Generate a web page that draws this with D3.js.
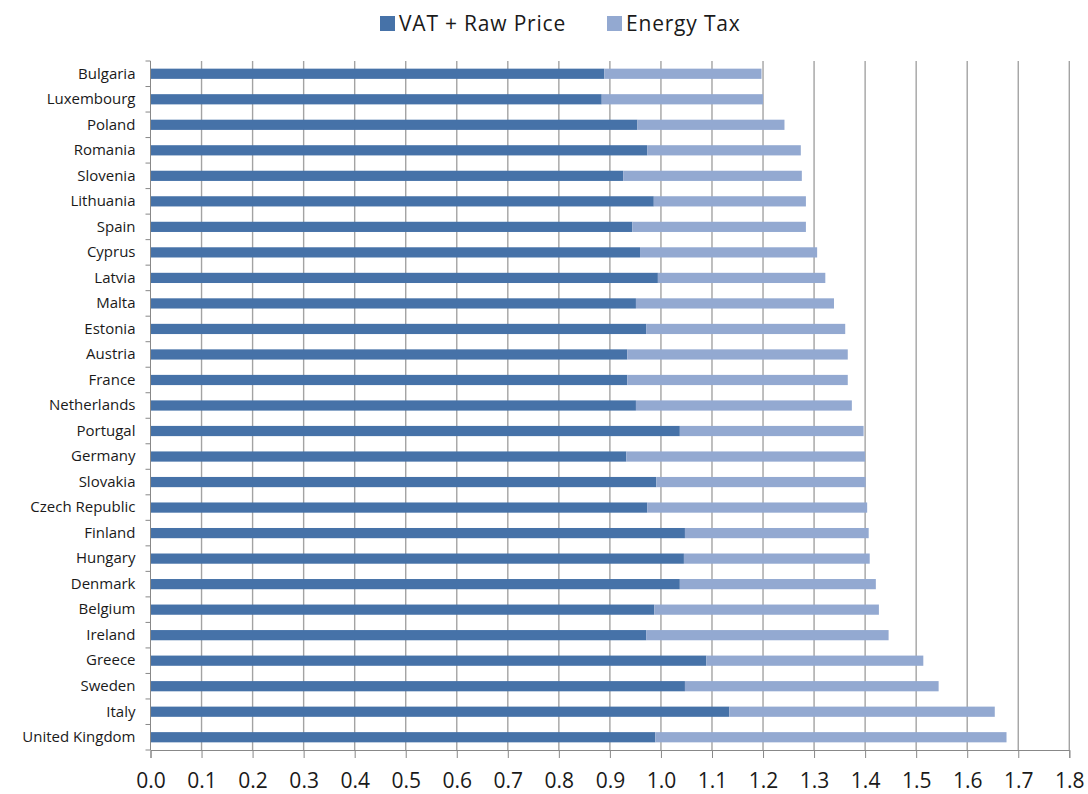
<!DOCTYPE html>
<html>
<head>
<meta charset="utf-8">
<script src="https://d3js.org/d3.v7.min.js"></script>
<style>
  body { margin: 0; background: #fff; }
  svg text { font-family: "Open Sans", Lato, sans-serif; fill: #1a1a1a; }
</style>
</head>
<body>
<div id="chart"></div>
<script>
// categories, top to bottom
var countries = ["Bulgaria", "Luxembourg", "Poland", "Romania", "Slovenia", "Lithuania",
  "Spain", "Cyprus", "Latvia", "Malta", "Estonia", "Austria", "France", "Netherlands",
  "Portugal", "Germany", "Slovakia", "Czech Republic", "Finland", "Hungary", "Denmark",
  "Belgium", "Ireland", "Greece", "Sweden", "Italy", "United Kingdom"];

var vatRaw = [0.889, 0.884, 0.954, 0.973, 0.926, 0.986, 0.944, 0.959, 0.994, 0.951,
  0.971, 0.934, 0.934, 0.951, 1.037, 0.932, 0.991, 0.973, 1.047, 1.045, 1.037,
  0.987, 0.971, 1.089, 1.047, 1.134, 0.989];

var energyTax = [0.308, 0.316, 0.288, 0.301, 0.350, 0.298, 0.340, 0.347, 0.328, 0.388,
  0.390, 0.432, 0.432, 0.423, 0.360, 0.468, 0.410, 0.431, 0.360, 0.364, 0.384,
  0.440, 0.475, 0.425, 0.497, 0.520, 0.688];

var seriesNames = ["VAT + Raw Price", "Energy Tax"];
var seriesColors = ["#4672a8", "#93a9d1"];
var xTicks = d3.range(0, 19).map(i => i / 10);

var svgWidth = 1088;
var svgHeight = 794;
var margin = { top: 61, right: 18.7, bottom: 44, left: 150.5 };
var width = svgWidth - margin.left - margin.right;
var height = svgHeight - margin.top - margin.bottom;

var svg = d3.select("#chart")
  .append("svg")
  .attr("width", svgWidth)
  .attr("height", svgHeight);

var chartGroup = svg.append("g")
  .attr("transform", `translate(${margin.left}, ${margin.top})`);

var x = d3.scaleLinear().domain([0, 1.8]).range([0, width]);
var y = d3.scaleBand()
  .domain(countries)
  .range([0, height])
  .paddingInner(0.6)
  .paddingOuter(0.3);

// vertical gridlines
chartGroup.append("g")
  .selectAll("line")
  .data(xTicks.slice(1))
  .enter()
  .append("line")
  .attr("x1", d => x(d))
  .attr("x2", d => x(d))
  .attr("y1", 0)
  .attr("y2", height)
  .attr("stroke", "#a3a3a3")
  .attr("stroke-width", 1.4);

// stacked bars
var stackData = countries.map((c, i) => ({ country: c, vat: vatRaw[i], tax: energyTax[i] }));
var stacked = d3.stack().keys(["vat", "tax"])(stackData);

chartGroup.append("g")
  .selectAll("g")
  .data(stacked)
  .enter()
  .append("g")
  .attr("fill", (d, i) => seriesColors[i])
  .selectAll("rect")
  .data(d => d)
  .enter()
  .append("rect")
  .attr("x", d => x(d[0]))
  .attr("y", d => y(d.data.country))
  .attr("width", d => x(d[1]) - x(d[0]))
  .attr("height", y.bandwidth());

// y axis: labels, then boundary tick marks
var leftAxis = d3.axisLeft(y).tickSize(0).tickPadding(15);
var yAxis = chartGroup.append("g").call(leftAxis);
yAxis.select(".domain").remove();
yAxis.selectAll("text")
  .attr("font-size", "15px")
  .attr("font-family", "'Open Sans', sans-serif");

var step = y.step();
chartGroup.append("g")
  .selectAll("line")
  .data(d3.range(countries.length + 1))
  .enter()
  .append("line")
  .attr("x1", -5)
  .attr("x2", 0)
  .attr("y1", d => d * step)
  .attr("y2", d => d * step)
  .attr("stroke", "#888");

chartGroup.append("line")
  .attr("x1", 0).attr("x2", 0)
  .attr("y1", 0).attr("y2", height)
  .attr("stroke", "#888");

// x axis
var bottomAxis = d3.axisBottom(x)
  .tickValues(xTicks)
  .tickFormat(d3.format(".1f"))
  .tickSize(8);
var xAxis = chartGroup.append("g")
  .attr("transform", `translate(0, ${height})`)
  .call(bottomAxis);
xAxis.select(".domain").attr("stroke", "#888");
xAxis.selectAll(".tick line").attr("stroke", "#888");
xAxis.selectAll("text")
  .attr("y", 38)
  .attr("dy", null)
  .attr("font-size", "21px")
  .attr("font-family", "'Open Sans', sans-serif");

// legend
var legendX = [380, 607];
var legend = svg.append("g");
seriesNames.forEach((name, i) => {
  legend.append("rect")
    .attr("x", legendX[i])
    .attr("y", 16)
    .attr("width", 15)
    .attr("height", 15)
    .attr("fill", seriesColors[i]);
  legend.append("text")
    .attr("x", legendX[i] + 19)
    .attr("y", 31)
    .attr("font-size", "21px")
    .attr("letter-spacing", "0.8px")
    .text(name);
});
</script>
</body>
</html>
